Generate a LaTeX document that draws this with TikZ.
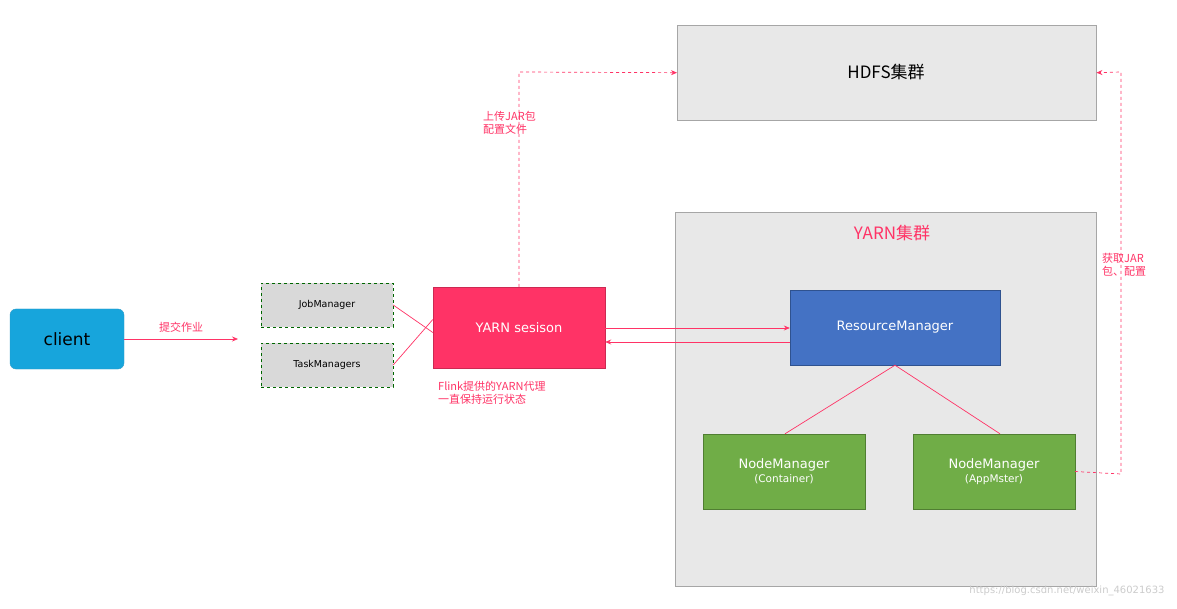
\documentclass[tikz,border=0pt]{standalone}
\usepackage{fontspec}
\setmainfont{DejaVu Sans}
\newfontfamily\cjk{Noto Sans CJK SC}
\usetikzlibrary{arrows.meta}
\definecolor{rd}{HTML}{FF3366}
\definecolor{pan}{HTML}{E8E8E8}
\begin{document}
\begin{tikzpicture}[x=1pt,y=-1pt,
  box/.style={draw=#1,minimum width=0,anchor=north west},
  ln/.style={rd,line width=0.7pt},
  ar/.style={ln,-{Stealth[length=6pt,width=5pt]}},
  da/.style={ar,dashed},
  lab/.style={text=rd,font=\cjk\fontsize{11}{13}\selectfont,align=left,inner sep=0pt}]
\useasboundingbox (0,0) rectangle (1177,609);
\fill[white] (0,0) rectangle (1177,609);
% panels
\node[draw=gray!70,fill=pan,minimum width=419pt,minimum height=95pt,anchor=north west] (hdfs) at (677,25) {};
\node[font=\cjk\fontsize{17}{20}\selectfont] (hdfst) at (886,72) {HDFS集群};
\node[draw=gray!70,fill=pan,minimum width=421pt,minimum height=374pt,anchor=north west] (yarn) at (675,212) {};
\node[text=rd,font=\cjk\fontsize{17}{20}\selectfont] (yarnt) at (892,233) {YARN集群};
% nodes
\node[fill=cyan!80!teal,draw=cyan!60!teal,rounded corners=6pt,minimum width=114pt,minimum height=60pt,font=\fontsize{17}{20}\selectfont] (client) at (67,339) {client};
\node[fill=gray!30,draw=green!40!black,dashed,minimum width=132pt,minimum height=44pt,font=\fontsize{9.5}{11}\selectfont] (jm) at (327,305) {JobManager};
\node[fill=gray!30,draw=green!40!black,dashed,minimum width=132pt,minimum height=44pt,font=\fontsize{9.5}{11}\selectfont] (tm) at (327,365) {TaskManagers};
\node[fill=rd,draw=rd!80!black,minimum width=172pt,minimum height=81pt,text=white,font=\fontsize{13}{16}\selectfont] (ys) at (519,327.5) {YARN sesison};
\node[fill=blue!45!cyan!60!black!90,fill={rgb,255:red,68;green,114;blue,196},draw={rgb,255:red,47;green,82;blue,143},minimum width=210pt,minimum height=75pt,text=white,font=\fontsize{13}{16}\selectfont] (rm) at (895,327.5) {ResourceManager};
\node[fill={rgb,255:red,112;green,173;blue,71},draw={rgb,255:red,80;green,126;blue,50},minimum width=162pt,minimum height=75pt,text=white,align=center,font=\fontsize{13}{15}\selectfont] (nm1) at (784,471.5) {NodeManager\\[-1pt]{\fontsize{10.5}{12}\selectfont (Container)}};
\node[fill={rgb,255:red,112;green,173;blue,71},draw={rgb,255:red,80;green,126;blue,50},minimum width=162pt,minimum height=75pt,text=white,align=center,font=\fontsize{13}{15}\selectfont] (nm2) at (994,471.5) {NodeManager\\[-1pt]{\fontsize{10.5}{12}\selectfont (AppMster)}};
% connectors
\coordinate (ct) at (238,339);
\draw[ar] (client.east) -- (ct);
\node[lab,anchor=south] (l1) at (181,333) {提交作业};
\draw[ln] (jm.east) -- ([yshift=-5pt]ys.west);
\draw[ln] (tm.east) -- ([yshift=8pt]ys.west);
\draw[ar] ([yshift=-14.5pt]rm.west) -- ([yshift=-14.5pt]ys.east);
\draw[ar] ([yshift=-0.5pt]ys.east) -- ([yshift=-0.5pt]rm.west);
\draw[ln] (rm.south) -- ([xshift=1pt]nm1.north);
\draw[ln] (rm.south) -- ([xshift=6pt]nm2.north);
\coordinate (c1) at (519,72);
\draw[da] (ys.north) -- (c1) -- (hdfs.west);
\node[lab,anchor=north west] (l2) at (483,111) {上传JAR包\\配置文件};
\coordinate (c2) at (1121,474);
\coordinate (c3) at (1121,72);
\draw[da] (nm2.east) -- (c2) -- (c3) -- (hdfs.east);
\node[lab,anchor=north west] (l3) at (1102,253) {获取JAR\\包、配置};
\node[lab,anchor=north west] (l4) at (438,381) {Flink提供的YARN代理\\一直保持运行状态};
\node[text=gray!40,font=\fontsize{10}{12}\selectfont,anchor=east] (wm) at (1168,591) {https://blog.csdn.net/weixin\_46021633};
\end{tikzpicture}
\end{document}
